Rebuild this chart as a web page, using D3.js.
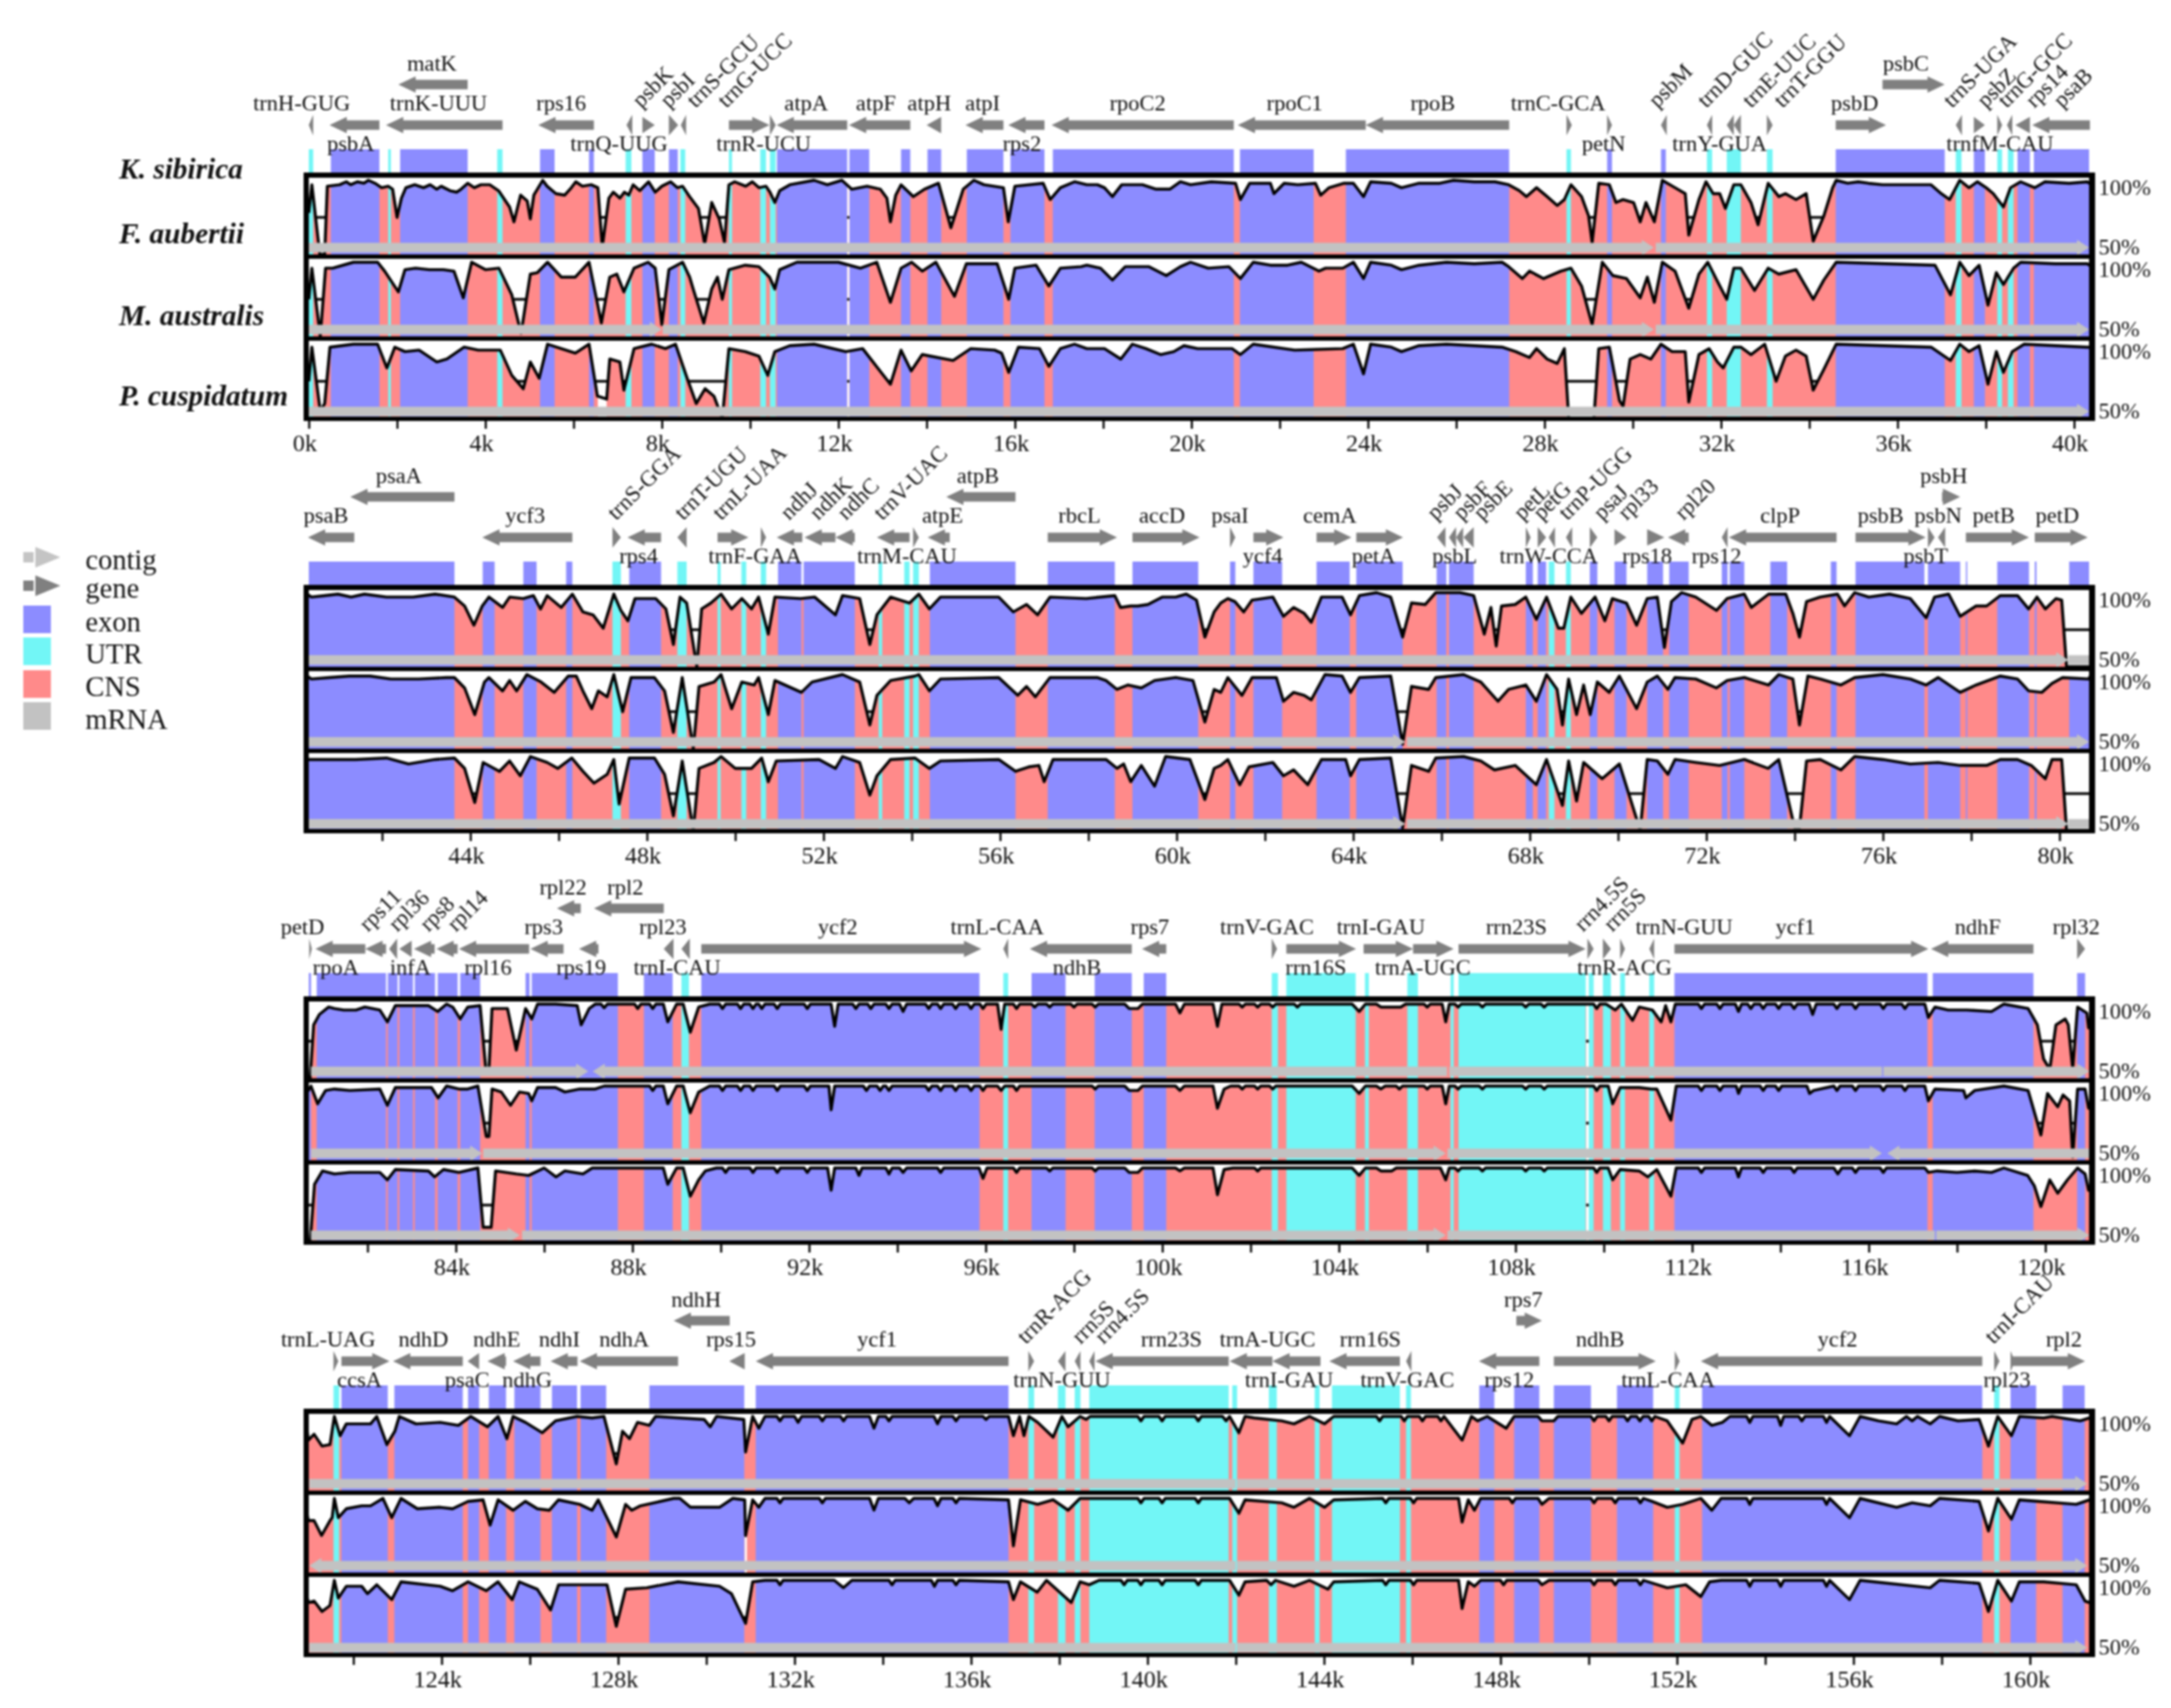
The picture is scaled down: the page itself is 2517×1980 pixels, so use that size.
<!DOCTYPE html>
<html>
<head>
<meta charset="utf-8">
<style>
  body { margin: 0; background: #fff; }
  svg { display: block; filter: blur(0.8px); }
  text { font-family: "Liberation Serif", serif; fill: #111; }
</style>
<script src="https://cdn.jsdelivr.net/npm/d3@7"></script>
</head>
<body>
<script>
// sequence range of each row, in kb
const rowStarts = [0, 40.34, 80.67, 120.99];
const rowEnds = [40.34, 80.67, 120.99, 161.34];
const species = ["F. aubertii", "M. australis", "P. cuspidatum"];
const referenceName = "K. sibirica";
const legendNames = ["contig", "gene", "exon", "UTR", "CNS", "mRNA"];

const exons = [[.5,1.6],[2.07,3.6],[5.24,5.57],[6.35,6.46],[7.56,7.84],[8.16,8.36],[10.61,12.2],[12.25,12.7],[13.42,13.63],[14.02,14.33],[14.91,15.74],[15.9,16.67],[16.86,20.96],[21.1,22.77],[23.5,27.2],[29.42,29.53],[30.64,30.75],[34.6,37.07],[37.73,37.98],[38.72,39],[39.09,40.36],
  [40.33,43.64],[44.28,44.55],[45.2,45.5],[46.17,46.31],[47.6,48.32],[50.97,51.5],[51.55,52.71],[54.41,56.35],[57.08,58.6],[59,60.49],[61.21,61.33],[61.74,62.39],[63.17,63.92],[64.07,65.12],[65.89,66.11],[66.17,66.73],[67.91,68.07],[68.18,68.37],[69.36,69.53],[69.92,70.19],[70.66,71.02],[71.16,71.6],[72.35,72.48],[72.53,72.86],[73.45,73.83],[74.82,74.95],[75.38,76.94],[77.02,77.75],[77.88,77.91],[78.59,79.31],[79.44,79.48],[80.22,80.71],
  [80.68,80.72],[80.85,82.42],[82.46,82.68],[82.72,83.03],[83.07,83.53],[83.59,84.04],[84.1,84.55],[85.58,85.67],[85.72,87.67],[88.26,88.91],[89.56,95.86],[97.04,97.81],[98.47,99.31],[99.58,100.09],[111.6,117.33],[117.45,119.73],[120.72,120.9],
  [121.73,122.78],[122.93,124.48],[124.6,124.85],[125.07,125.46],[125.65,126.24],[126.5,127.07],[127.15,127.73],[128.71,130.86],[131.12,136.85],[147.52,147.86],[148.31,148.88],[149.21,150.05],[150.64,151.46],[152.57,158.92],[159.56,160.14],[160.74,161.24]];

const utrs = [[0,.1],[1.8,1.86],[4.27,4.39],[7.18,7.31],[8.42,8.53],[9.52,9.59],[10.23,10.36],[10.45,10.58],[28.5,28.6],[31.68,31.8],[32.13,32.45],[33.04,33.17],[37.32,37.45],[38.26,38.37],[38.5,38.63],
  [47.22,47.41],[48.69,48.9],[49.6,49.67],[50.14,50.25],[50.58,50.7],[53.25,53.33],[53.83,53.95],[54.03,54.16],[68.43,68.56],[68.82,68.93],
  [89.11,89.28],[96.4,96.51],[102.48,102.62],[102.81,104.38],[104.59,104.68],[105.55,105.79],[106.53,106.6],[106.71,109.59],[109.66,109.77],[109.98,110.16],[110.37,110.48],[111.03,111.14],
  [121.55,121.68],[137.3,137.43],[137.97,138.14],[138.35,138.48],[138.68,141.84],[141.92,142.03],[142.75,142.93],[143.79,143.9],[144.18,145.72],[145.86,145.97],[151.95,152.06],[159.19,159.31]];

// unaligned slivers, per species
const gapsF = [[12.2,12.25],[109.6,109.66]];
const gapsM = [[12.2,12.25],[109.6,109.66],[130.87,130.92]];
const gapsP = [[12.2,12.25],[109.6,109.66],[6.55,6.75]];

// name, start, end, strand, label lane (a above, b below, u upper arrow, r rotated), label kb
const genes = [
  ["trnH-GUG",0,.1,-1,"a",-.16],["psbA",.47,1.6,-1,"b",.95],["trnK-UUU",1.75,4.39,-1,"a",2.94],["matK",2.03,3.6,-1,"u",2.79],["rps16",5.2,6.46,-1,"a",5.72],["trnQ-UUG",7.2,7.33,-1,"b",7.03],["psbK",7.56,7.84,1,"r",7.53],["psbI",8.16,8.37,1,"r",8.16],["trnS-GCU",8.43,8.55,-1,"r",8.76],["trnG-UCC",9.52,10.44,1,"r",9.46],["trnR-UCU",10.45,10.58,1,"b",10.31],["atpA",10.6,12.2,-1,"a",11.27],["atpF",12.24,13.63,-1,"a",12.85],["atpH",14,14.33,-1,"a",14.06],["atpI",14.88,15.74,-1,"a",15.27],["rps2",15.85,16.67,-1,"b",16.16],["rpoC2",16.83,20.96,-1,"a",18.78],["rpoC1",21.05,23.95,-1,"a",22.34],["rpoB",23.95,27.2,-1,"a",25.47],["trnC-GCA",28.5,28.62,1,"a",28.31],["petN",29.42,29.53,1,"b",29.34],["psbM",30.64,30.77,-1,"r",30.56],["trnD-GUC",31.68,31.8,-1,"r",31.66],["trnY-GUA",32.13,32.29,-1,"b",31.97],["trnE-UUC",32.29,32.45,-1,"r",32.68],["trnT-GGU",33.04,33.17,1,"r",33.39],["psbD",34.6,35.74,1,"a",35.03],["psbC",35.66,37.07,1,"u",36.19],["trnS-UGA",37.32,37.46,-1,"r",37.23],["psbZ",37.73,37.98,1,"r",38],["trnG-GCC",38.26,38.37,1,"r",38.47],["trnfM-CAU",38.48,38.6,-1,"b",38.32],["rps14",38.67,39,-1,"r",39.1],["psaB",39.05,40.36,-1,"r",39.73],
  ["psaB",40.32,41.37,-1,"a",40.73],["psaA",41.28,43.64,-1,"u",42.38],["ycf3",44.27,46.31,-1,"a",45.24],["trnS-GGA",47.22,47.41,1,"r",47.3],["rps4",47.56,48.32,-1,"b",47.81],["trnT-UGU",48.69,48.9,-1,"r",48.82],["trnL-UAA",49.6,50.3,1,"r",49.68],["trnF-GAA",50.58,50.7,1,"b",50.45],["ndhJ",50.94,51.52,-1,"r",51.22],["ndhK",51.57,52.27,-1,"r",51.88],["ndhC",52.27,52.71,-1,"r",52.51],["trnV-UAC",53.21,53.95,-1,"r",53.33],["trnM-CAU",54.03,54.16,1,"b",53.89],["atpE",54.36,54.86,-1,"a",54.7],["atpB",54.78,56.35,-1,"u",55.5],["rbcL",57.08,58.65,1,"a",57.8],["accD",59,60.52,1,"a",59.67],["psaI",61.21,61.33,1,"a",61.21],["ycf4",61.74,62.42,1,"b",61.95],["cemA",63.17,63.96,1,"a",63.47],["petA",64.07,65.13,1,"b",64.46],["psbJ",65.9,66.09,-1,"r",65.87],["psbL",66.17,66.33,-1,"b",66.3],["psbF",66.33,66.49,-1,"r",66.46],["psbE",66.5,66.73,-1,"r",66.92],["petL",67.91,68.02,1,"r",67.83],["petG",68.18,68.37,1,"r",68.27],["trnW-CCA",68.43,68.57,-1,"b",68.43],["trnP-UGG",68.82,68.96,-1,"r",68.85],["psaJ",69.36,69.53,1,"r",69.64],["rpl33",69.92,70.19,1,"r",70.19],["rps18",70.66,71.05,1,"b",70.66],["rpl20",71.13,71.6,-1,"r",71.48],["rps12",72.35,72.48,-1,"b",72.23],["clpP",72.51,74.95,-1,"a",73.67],["psbB",75.38,76.97,1,"a",75.95],["psbT",77.02,77.17,1,"b",76.97],["psbN",77.25,77.41,-1,"a",77.25],["psbH",77.34,77.75,1,"u",77.38],["petB",77.88,79.31,1,"a",78.51],["petD",79.44,80.64,1,"a",79.95],
  ["petD",80.68,80.74,1,"a",80.53],["rpoA",80.82,81.95,-1,"b",81.28],["rps11",81.95,82.42,-1,"r",82.01],["rpl36",82.49,82.67,-1,"r",82.67],["infA",82.72,83,-1,"b",82.97],["rps8",83.05,83.52,-1,"r",83.38],["rpl14",83.56,84.04,-1,"r",84],["rpl16",84.07,85.66,-1,"b",84.73],["rps3",85.69,86.44,-1,"a",85.99],["rps19",86.79,87.23,-1,"b",86.84],["rpl22",86.29,86.83,-1,"u",86.43],["rpl2",87.13,88.71,-1,"u",87.84],["rpl23",88.71,88.93,-1,"a",88.69],["trnI-CAU",89.11,89.3,-1,"b",89.01],["ycf2",89.56,95.9,1,"a",92.65],["trnL-CAA",96.4,96.51,-1,"a",96.26],["ndhB",97,99.31,-1,"b",98.07],["rps7",99.54,100.09,-1,"a",99.72],["trnV-GAC",102.48,102.6,1,"a",102.37],["rrn16S",102.81,104.39,1,"b",103.48],["trnI-GAU",104.56,105.68,1,"a",104.95],["trnA-UGC",105.68,106.6,1,"b",105.9],["rrn23S",106.71,109.59,1,"a",108.02],["rrn4.5S",109.63,109.77,1,"r",109.53],["rrn5S",109.98,110.16,1,"r",110.19],["trnR-ACG",110.37,110.48,1,"b",110.47],["trnN-GUU",111.03,111.14,-1,"a",111.82],["ycf1",111.6,117.35,1,"a",114.34],["ndhF",117.41,119.73,-1,"a",118.47],["rpl32",120.72,120.9,1,"a",120.7],
  ["trnL-UAG",121.55,121.66,1,"a",121.43],["ccsA",121.73,122.82,1,"b",122.14],["ndhD",122.9,124.48,-1,"a",123.59],["psaC",124.59,124.85,-1,"b",124.58],["ndhE",125.04,125.46,-1,"a",125.25],["ndhG",125.62,126.24,-1,"b",125.94],["ndhI",126.47,127.08,-1,"a",126.67],["ndhA",127.13,129.36,-1,"a",128.14],["ndhH",129.26,130.53,-1,"u",129.77],["rps15",130.52,130.87,-1,"a",130.56],["ycf1",131.12,136.85,-1,"a",133.87],["trnR-ACG",137.3,137.43,1,"r",137.24],["trnN-GUU",137.97,138.14,-1,"b",138.06],["rrn5S",138.35,138.48,-1,"r",138.48],["rrn4.5S",138.68,138.8,-1,"r",139],["rrn23S",138.82,141.84,-1,"a",140.54],["trnA-UGC",141.86,142.83,-1,"a",142.72],["trnI-GAU",142.83,143.92,-1,"b",143.21],["rrn16S",144.12,145.72,-1,"a",145.05],["trnV-GAC",145.86,145.98,-1,"b",145.89],["rps12",147.51,148.88,-1,"b",148.2],["rps7",148.36,148.94,1,"u",148.52],["ndhB",149.21,151.52,1,"a",150.26],["trnL-CAA",151.95,152.06,1,"b",151.8],["ycf2",152.54,158.92,-1,"a",155.64],["trnI-CAU",159.19,159.31,1,"r",159.17],["rpl23",159.56,159.66,1,"b",159.48],["rpl2",159.62,161.25,1,"a",160.77]
];

// contig pieces: start, end, direction of head (0 = no head)
const contigsF = [[0,30.48,1],[30.52,40.34,1],[40.34,80.2,1],[80.2,80.67,0],[80.72,87,1],[87.1,106.45,-1],[106.5,116.3,0],[116.33,121,1],[121,142,0],[142.03,161.3,1]];
const contigsM = [[0,8,1],[8.02,30.48,1],[30.52,40.34,1],[40.34,65.18,1],[65.22,80.67,1],[80.72,84.6,1],[84.62,106.42,1],[106.46,116.3,1],[116.42,121,-1],[121,142,-1],[142.03,161.3,1]];
const contigsP = [[0,40.34,1],[40.34,65.18,1],[65.22,80.2,1],[80.2,80.67,0],[80.72,85.45,1],[85.5,106.42,1],[106.46,117.5,0],[117.53,121,1],[121,142,0],[142.03,161.3,1]];

// conservation: kb, percent identity
const curveF = [[0,78],[.07,97],[.25,50],[.36,50],[.42,96],[.7,97],[.85,99],[.95,97],[1.1,99],[1.25,98],[1.35,100],[1.5,98],[1.65,95],[1.8,96],[1.9,94],[2,75],[2.1,88],[2.2,95],[2.4,97],[2.6,95],[2.75,97],[2.9,94],[3,96],[3.2,93],[3.35,92],[3.45,94],[3.6,98],[3.75,95],[3.9,97],[4.1,97],[4.3,93],[4.55,82],[4.65,72],[4.8,90],[4.95,86],[5.02,74],[5.1,90],[5.3,100],[5.4,96],[5.6,91],[5.8,90],[5.95,95],[6.05,99],[6.2,96],[6.4,97],[6.55,95],[6.65,55],[6.8,88],[6.9,92],[7.05,88],[7.15,92],[7.25,90],[7.35,97],[7.5,93],[7.7,99],[7.85,92],[8,96],[8.2,99],[8.35,95],[8.47,96],[8.63,89],[8.83,81],[8.97,57],[9.13,85],[9.3,74],[9.42,58],[9.52,97],[9.65,99],[9.9,96],[10.05,99],[10.2,95],[10.36,96],[10.45,92],[10.56,85],[10.67,93],[10.9,97],[11.45,100],[11.75,97],[12.08,100],[12.3,94],[12.65,96],[12.95,94],[13.1,88],[13.18,72],[13.3,90],[13.42,97],[13.7,89],[13.95,94],[14.27,98],[14.55,68],[14.83,94],[15.07,100],[15.3,97],[15.74,95],[15.85,72],[16,96],[16.64,98],[16.8,87],[17.03,95],[17.35,99],
  [17.63,97],[17.87,97],[18.03,95],[18.21,89],[18.42,97],[18.89,97],[19.2,94],[19.51,94],[19.75,99],[19.98,97],[20.45,99],[21,98],[21.11,87],[21.32,98],[21.79,98],[21.87,91],[22.1,98],[22.41,97],[22.81,98],[22.93,90],[23.12,95],[23.46,98],[23.67,98],[23.9,89],[24.06,99],[24.53,98],[24.76,95],[25.16,98],[25.63,98],[25.94,100],[26.41,99],[26.88,99],[27.19,97],[27.43,93],[27.59,89],[27.82,95],[28.06,89],[28.29,83],[28.45,87],[28.6,97],[28.84,89],[29,76],[29.08,58],[29.23,98],[29.47,97],[29.62,85],[29.78,87],[30.02,85],[30.17,72],[30.3,85],[30.49,72],[30.67,100],[30.96,95],[31.19,91],[31.27,63],[31.5,87],[31.66,99],[31.82,91],[31.97,91],[32.1,81],[32.29,97],[32.45,97],[32.68,85],[32.84,70],[33.07,98],[33.31,89],[33.46,91],[33.7,87],[33.93,91],[34.09,59],[34.33,76],[34.53,95],[34.61,100],[34.87,98],[35.11,99],[35.34,98],[35.66,97],[36.76,97],[36.99,91],[37.18,87],[37.41,100],[37.62,95],[37.81,99],[38.01,95],[38.17,91],[38.4,82],[38.56,95],[38.79,99],[39.11,95],[39.34,99],[39.89,98],[40.3,99],
  [40.4,97],[40.7,98],[41,99],[41.3,97],[41.6,99],[42.1,97],[42.7,97],[43.2,99],[43.64,97],[43.87,91],[44.08,78],[44.27,91],[44.42,97],[44.73,90],[44.89,97],[45.2,96],[45.43,98],[45.59,89],[45.74,98],[46.06,90],[46.31,99],[46.55,87],[46.78,85],[47.01,76],[47.25,99],[47.41,88],[47.57,81],[47.73,96],[48.2,96],[48.43,89],[48.6,65],[48.75,97],[48.9,93],[49.13,50],[49.24,89],[49.45,93],[49.68,99],[49.92,89],[50.15,96],[50.37,89],[50.53,97],[50.75,72],[50.9,97],[51.48,96],[51.8,97],[52.27,85],[52.43,98],[52.82,96],[53.05,65],[53.21,85],[53.52,97],[53.95,93],[54.16,99],[54.4,89],[54.65,97],[55.97,97],[56.3,87],[56.6,92],[56.85,85],[57.13,97],[57.95,96],
  [58.6,98],[58.73,90],[58.96,91],[59.12,91],[59.35,92],[59.67,97],[59.98,97],[60.22,99],[60.45,95],[60.64,70],[60.85,87],[61,93],[61.16,96],[61.32,94],[61.52,87],[61.71,95],[62.18,97],[62.42,84],[62.65,90],[62.89,86],[63.05,80],[63.28,97],[63.75,97],[63.94,85],[64.14,98],[64.53,100],[64.85,97],[65.12,70],[65.32,93],[65.63,92],[65.87,100],[66.42,100],[66.73,98],[66.97,72],[67.12,90],[67.24,64],[67.36,91],[67.67,92],[67.91,97],[68.15,82],[68.38,97],[68.65,76],[68.77,76],[68.93,97],[69.17,86],[69.48,97],[69.7,81],[69.87,96],[70.19,93],[70.42,78],[70.66,96],[70.89,97],[71.05,63],[71.21,94],[71.44,100],[71.76,97],[72.23,88],[72.47,96],[72.86,99],[73.02,90],[73.41,99],[73.8,99],[73.96,86],[74.11,70],[74.27,94],[74.58,97],[74.97,99],[75.13,91],[75.36,100],[75.68,97],[76.15,99],[76.62,96],[76.98,83],[77.17,97],[77.49,99],[77.75,84],[78.11,91],[78.35,91],[78.66,98],[79.05,98],[79.3,89],[79.49,97],[79.68,89],[79.92,96],[80.05,95],[80.16,50],[80.66,50],
  [80.7,50],[80.78,86],[80.91,93],[81.12,98],[81.25,97],[81.46,96],[81.74,96],[81.94,98],[82.28,96],[82.45,88],[82.63,99],[82.97,99],[83.38,99],[83.59,95],[83.79,100],[83.93,98],[84.1,90],[84.27,98],[84.55,99],[84.68,56],[84.75,56],[84.82,97],[85.17,97],[85.37,69],[85.58,97],[85.72,90],[85.85,100],[86.26,100],[86.75,99],[86.84,86],[87.02,97],[87.16,100],[87.29,100],[87.36,97.5],[87.43,100],[88.05,100],[88.12,97],[88.19,100],[88.39,100],[88.46,97],[88.53,100],[88.7,100],[88.8,88],[89,100],[89.15,100],[89.31,81],[89.5,98],[89.75,100],[89.97,100],[90.04,97],[90.11,100],[90.38,100],[90.45,97],[90.52,100],[90.66,100],[90.73,97],[90.8,100],[90.86,100],[90.93,97],[91,100],[91.21,100],[91.28,97],[91.35,100],[91.89,100],[91.96,97],[92.03,100],[92.5,100],[92.58,85],[92.66,100],[92.99,100],[93.06,97],[93.13,100],[93.33,100],[93.4,97],[93.47,100],[93.74,100],[93.81,97],[93.88,100],[94.05,100],[94.13,95],[94.21,100],[94.64,100],[94.71,97],[94.78,100],[94.91,100],[94.98,97],[95.05,100],[95.25,100],[95.32,97],[95.39,100],[95.6,100],[95.67,97],[95.74,100],[95.87,100],[95.94,97],[96.01,100],[96.27,100],[96.35,83],[96.43,100],[96.63,100],[96.7,97],[96.77,100],[97.04,100],[97.11,98],[97.18,100],[97.38,100],[97.45,98],[97.52,100],[97.93,100],[98,98],[98.07,100],[98.41,100],[98.48,98],[98.55,100],[99.15,100],[99.25,97],[99.45,97],[99.55,100],[100.3,100],[100.4,94],[100.5,100],[101.15,100],[101.25,85],[101.35,100],[101.74,100],[101.81,98],[101.88,100],[102.09,100],[102.16,98],[102.23,100],[102.43,100],[102.5,98],[102.57,100],[102.99,100],[103.06,98],[103.13,100],[104.3,100],[104.46,95],[104.6,100],[104.85,100],[104.95,98],[105.4,98],[105.51,100],[105.93,100],[106,98],[106.07,100],[106.34,100],[106.42,88],[106.5,100],[106.63,100],[106.7,98],[106.77,100],[107.18,100],[107.25,98],[107.32,100],[108.16,100],[108.23,98],[108.3,100],[108.58,100],[108.65,98],[108.72,100],[109.77,100],[109.84,97],[109.91,100],[110.05,100],[110.26,96],[110.4,100],[110.65,89],[110.8,98],[111.1,96],[111.3,88],[111.4,99],[111.52,88],[111.62,100],[112.14,100],[112.21,97],[112.28,100],[112.56,100],[112.63,97],[112.7,100],[112.98,100],[113.05,95],[113.12,100],[113.26,100],[113.33,97],[113.4,100],[113.54,100],[113.61,97],[113.68,100],[113.89,100],[113.96,97],[114.03,100],[114.24,100],[114.31,97],[114.38,100],[114.65,100],[114.73,93],[114.81,100],[115.21,100],[115.28,97],[115.35,100],[115.63,100],[115.7,97],[115.77,100],[116.26,100],[116.33,97],[116.4,100],[116.75,100],[116.82,97],[116.89,100],[117.27,100],[117.35,91],[117.5,98],[117.8,96],[118.22,96],[118.78,95],[119.06,100],[119.61,97],[119.82,86],[119.96,63],[120.1,56],[120.24,86],[120.45,90],[120.52,86],[120.62,56],[120.73,98],[120.94,94],
  [120.98,84],[121.11,88],[121.29,80],[121.47,81],[121.57,100],[121.7,87],[121.84,95],[122.39,95],[122.53,100],[122.76,81],[122.94,90],[123.04,100],[123.42,95],[123.97,96],[124.38,94],[124.66,100],[125.04,93],[125.28,100],[125.48,85],[125.62,100],[125.9,96],[126.28,89],[126.58,97],[127.07,100],[127.41,99],[127.68,100],[127.96,68],[128.1,90],[128.26,85],[128.44,96],[128.71,94],[128.85,100],[129.95,98],[130.09,93],[130.23,100],[130.85,98],[130.89,76],[131.05,100],[131.19,92],[131.33,100],[131.6,100],[131.67,97],[131.74,100],[132,100],[132.08,96],[132.16,100],[132.56,100],[132.63,97],[132.7,100],[133.04,100],[133.11,97],[133.18,100],[133.7,100],[133.8,92],[133.9,100],[134.07,100],[134.14,97],[134.21,100],[135.16,100],[135.24,95],[135.32,100],[135.59,100],[135.66,97],[135.73,100],[136.27,100],[136.34,98],[136.41,100],[136.85,100],[136.96,87],[137.1,100],[137.2,87],[137.31,100],[137.51,96],[137.86,86],[138.06,100],[138.2,93],[138.47,100],[138.61,98],[138.7,100],[139.78,100],[139.85,97],[139.92,100],[140.26,100],[140.33,97],[140.4,100],[141.08,100],[141.15,97],[141.22,100],[141.7,100],[141.78,97],[141.86,100],[142.07,89],[142.21,100],[142.42,99],[143.04,97],[143.32,95],[143.67,100],[144.01,95],[144.22,100],[145.19,100],[145.26,97],[145.33,100],[145.75,100],[145.82,97],[145.89,100],[146.16,100],[146.23,97],[146.3,100],[146.58,100],[146.65,97],[146.72,100],[147.13,84],[147.34,100],[147.48,97],[147.7,100],[148.13,92],[148.31,100],[148.85,100],[148.94,97],[149.21,97],[149.3,100],[150.05,100],[150.12,97],[150.19,100],[150.39,100],[150.46,97],[150.53,100],[150.81,100],[150.88,97],[150.95,100],[151.09,100],[151.16,97],[151.23,100],[151.36,100],[151.43,97],[151.5,100],[151.78,97],[152.13,82],[152.34,98],[152.54,100],[152.79,94],[153.03,96],[153.2,100],[153.58,100],[153.65,96],[153.72,100],[154.28,100],[154.35,94],[154.42,100],[154.76,100],[154.83,97],[154.9,100],[155.32,100],[155.39,96],[155.46,100],[155.91,87],[156.15,100],[156.57,97],[156.98,95],[157.2,100],[157.33,97],[157.45,100],[157.74,95],[157.95,100],[158.37,97],[158.85,98],[159.06,80],[159.27,100],[159.58,87],[159.76,100],[160.31,99],[160.5,100],[161.14,97],[161.35,99]];

const curveM = [[0,75],[.07,96],[.26,50],[.38,96],[.54,96],[1.01,100],[1.56,100],[1.72,94],[2.03,80],[2.18,95],[2.42,96],[2.73,95],[3.05,95],[3.29,94],[3.5,76],[3.69,100],[4,95],[4.31,96],[4.6,78],[4.81,52],[5.02,92],[5.18,93],[5.41,100],[5.72,90],[6.04,90],[6.35,100],[6.63,59],[6.82,90],[6.98,92],[7.14,80],[7.37,96],[7.69,100],[7.85,96],[8,58],[8.16,95],[8.47,100],[8.63,90],[8.71,82],[8.95,59],[9.13,82],[9.26,90],[9.37,75],[9.52,95],[9.89,98],[10.2,97],[10.44,90],[10.56,82],[10.67,95],[11.06,100],[11.3,100],[12,100],[12.5,96],[12.87,100],[13.18,73],[13.42,96],[13.66,100],[13.9,94],[14.21,100],[14.63,77],[14.9,99],[15.6,99],[15.86,75],[16,96],[16.48,98],[16.77,84],[17.03,96],[17.5,97],
  [17.63,98],[17.94,96],[18.21,88],[18.5,97],[19.04,97],[19.43,91],[19.75,97],[19.98,100],[20.38,96],[20.85,97],[21.11,89],[21.4,100],[21.79,98],[22.18,98],[22.49,100],[22.89,94],[23.04,96],[23.43,96],[23.67,100],[23.9,89],[24.06,100],[24.53,98],[24.76,95],[25.16,98],[25.78,100],[26.41,99],[27.04,100],[27.19,97],[27.5,89],[27.66,94],[27.98,89],[28.37,94],[28.6,96],[28.84,84],[29.08,58],[29.31,100],[29.55,91],[29.86,89],[30.17,76],[30.33,90],[30.49,73],[30.67,100],[30.96,94],[31.27,69],[31.5,92],[31.7,100],[31.92,87],[32.13,75],[32.29,96],[32.45,96],[32.76,81],[33.07,96],[33.31,92],[33.7,95],[34.09,75],[34.33,88],[34.61,100],[36.85,98],[37.2,78],[37.41,100],[37.62,91],[37.85,98],[38.05,71],[38.24,93],[38.4,85],[38.63,96],[38.79,100],[39.57,99],[40.3,99],
  [40.4,97],[40.8,98],[41.26,99],[41.73,99],[42.2,97],[42.83,97],[43.46,98],[43.64,98],[43.87,91],[44.1,73],[44.32,95],[44.42,98],[44.73,89],[44.89,96],[45.05,89],[45.28,100],[45.6,95],[45.9,88],[46.22,99],[46.4,99],[46.55,89],[46.75,77],[46.9,89],[47.1,85],[47.25,100],[47.45,75],[47.64,98],[48.17,98],[48.4,89],[48.6,61],[48.8,98],[49.05,50],[49.18,92],[49.52,95],[49.68,100],[49.92,77],[50.15,95],[50.43,93],[50.53,98],[50.75,73],[50.9,96],[51.5,88],[51.74,95],[52.43,100],[52.82,95],[53.05,66],[53.21,86],[53.52,96],[54.07,99],[54.16,100],[54.4,89],[54.65,97],[55.97,98],[56.4,86],[56.6,92],[56.8,85],[57.13,98],[58.2,98],
  [58.4,96],[58.65,90],[58.9,93],[59.2,91],[59.5,96],[59.98,98],[60.37,96],[60.64,68],[60.85,90],[61,88],[61.16,98],[61.48,86],[61.71,98],[62.26,98],[62.42,82],[62.65,88],[62.89,86],[63.05,83],[63.36,100],[63.75,99],[63.94,88],[64.14,98],[64.85,99],[65.12,53],[65.32,92],[65.71,90],[65.87,98],[66.5,100],[66.89,95],[67.28,82],[67.52,90],[67.91,93],[68.15,82],[68.38,100],[68.62,90],[68.74,66],[68.88,97],[69.06,73],[69.22,93],[69.37,73],[69.53,95],[69.8,88],[70.03,99],[70.42,77],[70.66,95],[70.89,99],[71.13,90],[71.29,98],[71.76,97],[72.23,91],[72.47,96],[72.86,98],[73.41,93],[73.64,100],[73.96,97],[74.11,66],[74.3,99],[74.58,97],[75.05,93],[75.36,98],[76,100],[76.62,97],[76.98,93],[77.25,98],[77.75,88],[78.11,93],[78.66,99],[79.05,97],[79.3,89],[79.6,88],[79.83,94],[80.07,98],[80.66,97],
  [80.72,100],[80.87,88],[81.05,97],[81.25,98],[81.6,97],[82.28,98],[82.45,87],[82.63,99],[82.97,99],[83.45,99],[83.6,92],[83.79,100],[84.07,98],[84.27,98],[84.5,100],[84.69,66],[84.75,66],[84.82,98],[85.03,96],[85.24,87],[85.44,96],[85.65,95],[85.72,90],[85.85,99],[86.26,99],[86.47,96],[86.81,98],[87.16,98],[87.36,100],[88.39,100],[88.46,97],[88.53,100],[88.7,100],[88.8,88],[89,100],[89.15,100],[89.31,82],[89.5,96],[89.75,100],[89.97,100],[90.04,97],[90.11,100],[90.38,100],[90.45,97],[90.52,100],[90.66,100],[90.73,97],[90.8,100],[91.21,100],[91.28,97],[91.35,100],[91.89,100],[91.96,97],[92.03,100],[92.45,100],[92.5,84],[92.58,100],[93.23,100],[93.3,97],[93.37,100],[93.54,100],[93.61,97],[93.68,100],[93.74,100],[93.81,97],[93.88,100],[94.64,100],[94.71,97],[94.78,100],[94.91,100],[94.98,97],[95.05,100],[95.25,100],[95.32,97],[95.39,100],[95.6,100],[95.67,97],[95.74,100],[95.87,100],[95.94,97],[96.01,100],[96.27,100],[96.35,97],[96.43,100],[96.63,100],[96.7,97],[96.77,100],[98.41,100],[98.48,98],[98.55,100],[99.15,100],[99.25,97],[99.45,97],[99.55,100],[100.3,100],[100.4,97],[100.5,100],[101.15,100],[101.25,85],[101.4,98],[101.55,100],[101.74,100],[101.81,98],[101.88,100],[102.09,100],[102.16,98],[102.23,100],[102.43,100],[102.5,98],[102.57,100],[104.3,100],[104.46,95],[104.6,100],[104.85,100],[104.95,98],[105.05,100],[105.3,100],[105.37,98],[105.44,100],[105.93,100],[106,98],[106.07,100],[106.34,100],[106.42,88],[106.5,100],[106.63,100],[106.7,98],[106.77,100],[107.18,100],[107.25,98],[107.32,100],[108.16,100],[108.23,98],[108.3,100],[108.58,100],[108.65,98],[108.72,100],[109.77,100],[109.84,97],[109.91,100],[110.1,100],[110.2,88],[110.37,99],[110.8,99],[111.08,98],[111.2,98],[111.52,77],[111.64,100],[112.14,100],[112.21,97],[112.28,100],[112.56,100],[112.63,97],[112.7,100],[113,100],[113.05,95],[113.12,100],[113.54,100],[113.61,97],[113.68,100],[113.89,100],[113.96,97],[114.03,100],[114.6,100],[114.66,95],[114.75,97],[115.21,100],[115.28,97],[115.35,100],[115.63,100],[115.7,97],[115.77,100],[116.26,100],[116.33,97],[116.4,100],[116.75,100],[116.82,97],[116.89,100],[117.27,100],[117.35,90],[117.5,98],[118.15,97],[118.2,92],[118.4,97],[119.06,100],[119.61,97],[119.9,67],[120.05,95],[120.28,86],[120.4,94],[120.55,90],[120.62,52],[120.73,98],[120.9,98],
  [120.98,85],[121.11,85],[121.28,75],[121.47,85],[121.52,87],[121.57,100],[121.66,87],[121.84,93],[122.19,95],[122.39,95],[122.67,100],[122.87,87],[123.08,100],[123.45,93],[123.97,94],[124.25,93],[124.6,98],[124.94,99],[125.1,82],[125.28,99],[125.62,92],[125.9,98],[126.17,93],[126.44,92],[126.65,99],[127.13,96],[127.41,92],[127.55,99],[127.96,74],[128.17,96],[128.31,92],[128.51,95],[129.26,100],[129.4,100],[129.64,94],[130.3,94],[130.6,100],[130.87,99],[130.89,75],[131.05,99],[131.19,94],[131.33,100],[131.6,100],[131.67,97],[131.74,100],[132.56,100],[132.63,97],[132.7,100],[133.7,100],[133.8,92],[133.9,100],[134.5,100],[134.6,97],[134.7,100],[135.16,100],[135.24,95],[135.32,100],[135.59,100],[135.66,97],[135.73,100],[136.85,99],[136.96,68],[137.12,99],[137.51,96],[137.86,99],[138.2,92],[138.47,100],[139.78,100],[139.85,97],[139.92,100],[140.26,100],[140.33,97],[140.4,100],[141.08,100],[141.15,97],[141.22,100],[141.86,100],[142.07,90],[142.21,99],[143.04,97],[143.32,94],[143.67,100],[144.01,94],[144.22,99],[145.33,100],[145.4,97],[145.47,100],[145.96,100],[146.03,97],[146.1,100],[147.05,100],[147.13,84],[147.27,99],[147.41,92],[147.55,100],[148.2,100],[148.27,97],[148.34,100],[148.85,100],[148.94,96],[149.1,100],[150.05,100],[150.12,97],[150.19,100],[150.53,100],[150.6,97],[150.67,100],[151.1,100],[151.17,97],[151.24,100],[151.43,98],[151.78,94],[152.13,96],[152.54,100],[152.79,92],[153,100],[153.58,100],[153.65,96],[153.72,100],[155.32,100],[155.39,96],[155.46,100],[155.91,87],[156.15,100],[156.98,94],[157.33,97],[157.74,95],[157.95,100],[158.85,98],[159.06,78],[159.27,100],[159.58,86],[159.76,99],[160.2,98],[161.05,96],[161.35,99]];

const curveP = [[0,75],[.07,98],[.26,55],[.36,60],[.48,98],[1.01,100],[1.56,100],[1.77,84],[1.95,98],[2.18,95],[2.5,96],[2.9,88],[3.13,90],[3.52,98],[3.84,96],[4.34,96],[4.6,79],[4.86,70],[5.02,88],[5.22,77],[5.41,100],[5.72,97],[6.04,94],[6.35,100],[6.54,65],[6.75,63],[6.82,90],[7.05,88],[7.14,69],[7.37,97],[7.77,100],[8.08,97],[8.31,100],[8.55,79],[8.78,60],[8.98,70],[9.18,65],[9.37,50],[9.52,97],[9.89,95],[10.2,92],[10.4,79],[10.56,95],[10.9,99],[11.45,100],[12.17,95],[12.55,97],[13.18,73],[13.42,96],[13.65,82],[13.9,93],[14.6,89],[15,97],[15.54,96],[15.7,94],[15.86,81],[16.08,98],[16.56,97],[16.77,85],[17.03,97],[17.35,100],
  [17.63,97],[18.03,97],[18.4,90],[18.66,100],[18.97,97],[19.3,93],[19.6,95],[19.83,99],[20.14,97],[20.92,97],[21.11,93],[21.4,100],[22.34,96],[23.43,97],[23.67,100],[23.9,80],[24.06,100],[24.53,98],[24.76,95],[25.16,99],[25.78,100],[27.04,98],[27.35,95],[27.66,91],[27.82,97],[28.06,90],[28.29,87],[28.45,97],[28.55,50],[29.12,50],[29.23,97],[29.47,98],[29.7,62],[29.78,58],[29.94,90],[30.17,93],[30.41,90],[30.64,100],[30.89,95],[31.19,95],[31.27,61],[31.5,93],[31.73,97],[31.92,88],[32.05,84],[32.29,98],[32.45,98],[32.68,93],[32.99,100],[33.25,75],[33.46,92],[33.7,96],[33.93,92],[34.09,69],[34.33,83],[34.61,100],[36.76,98],[37.2,89],[37.41,100],[37.62,95],[37.85,99],[38.05,73],[38.24,95],[38.4,81],[38.6,95],[38.87,100],[40.3,98],
  [40.4,98],[41.4,98],[42.1,99],[42.6,95],[43.2,98],[43.64,99],[43.87,92],[44.1,69],[44.29,96],[44.66,90],[44.89,97],[45.13,87],[45.36,100],[45.74,96],[45.98,92],[46.3,99],[46.55,90],[46.8,82],[47.1,88],[47.25,98],[47.37,68],[47.6,99],[48.17,99],[48.4,88],[48.6,60],[48.8,97],[49.05,50],[49.18,92],[49.52,96],[49.68,100],[50,92],[50.37,92],[50.6,99],[50.75,83],[50.93,97],[51.9,98],[52.27,92],[52.43,100],[52.82,96],[53.05,74],[53.21,87],[53.52,98],[54.07,99],[54.4,92],[54.65,97],[55.97,98],[56.35,90],[56.65,93],[56.88,94],[57,83],[57.2,98],[58.2,98],
  [58.4,98],[58.65,92],[58.8,95],[58.96,83],[59.2,94],[59.5,80],[59.75,100],[60.3,98],[60.64,71],[60.85,92],[61,94],[61.16,98],[61.43,81],[61.64,93],[62.18,96],[62.42,87],[62.65,91],[62.97,81],[63.28,98],[63.83,98],[63.94,87],[64.14,98],[64.85,99],[65.12,52],[65.32,94],[65.71,90],[65.87,99],[66.5,100],[66.89,97],[67.2,91],[67.67,94],[68.15,81],[68.38,98],[68.74,67],[68.88,97],[69.06,70],[69.22,96],[69.64,85],[70.03,95],[70.42,58],[70.5,50],[70.66,98],[70.89,97],[71.13,88],[71.29,98],[71.76,96],[72.3,94],[72.86,98],[73.4,92],[73.64,98],[74,52],[74.11,52],[74.27,97],[74.58,98],[75.05,91],[75.36,100],[76,98],[76.62,95],[77.25,96],[77.75,94],[78.35,94],[78.66,98],[79.05,98],[79.36,94],[79.68,85],[79.83,98],[80.05,98],[80.16,50],[80.66,50],
  [80.7,50],[80.8,89],[80.98,98],[81.25,96],[81.6,97],[82.28,97],[82.45,92],[82.63,99],[83.38,98],[83.52,94],[83.72,99],[84.07,97],[84.5,100],[84.62,60],[84.8,60],[84.9,98],[85.37,96],[85.65,95],[86,100],[86.27,94],[86.47,98],[86.88,96],[87.09,100],[88.7,100],[88.8,89],[89,100],[89.15,100],[89.31,81],[89.5,92],[89.65,98],[89.9,100],[90.04,100],[90.11,97],[90.18,100],[90.66,100],[90.73,97],[90.8,100],[91.21,100],[91.28,97],[91.35,100],[91.89,100],[91.96,97],[92.03,100],[92.42,100],[92.5,85],[92.58,100],[93.06,100],[93.13,95],[93.2,100],[93.74,100],[93.81,96],[93.88,100],[94.05,100],[94.13,97],[94.21,100],[94.91,100],[94.98,97],[95.05,100],[95.85,100],[95.94,93],[96.03,100],[96.63,100],[96.7,97],[96.77,100],[97.38,100],[97.45,98],[97.52,100],[98.41,100],[98.48,98],[98.55,100],[99.15,100],[99.25,97],[99.45,97],[99.55,100],[100.3,100],[100.4,98],[100.5,100],[101.15,100],[101.25,82],[101.4,99],[101.6,100],[102.09,100],[102.16,98],[102.23,100],[104.3,100],[104.46,95],[104.6,100],[104.85,100],[104.95,98],[105.2,98],[105.3,100],[106.3,100],[106.42,92],[106.5,100],[106.63,100],[106.7,98],[106.77,100],[107.18,100],[107.25,98],[107.32,100],[108.16,100],[108.23,98],[108.3,100],[108.58,100],[108.65,98],[108.72,100],[109.77,100],[109.84,97],[109.91,100],[110.1,100],[110.2,92],[110.37,99],[110.8,98],[111,94],[111.2,99],[111.52,81],[111.64,100],[112.14,100],[112.21,97],[112.28,100],[112.98,100],[113.05,94],[113.12,100],[113.54,100],[113.61,97],[113.68,100],[114.24,100],[114.31,97],[114.38,100],[115.21,100],[115.3,96],[115.39,100],[115.63,100],[115.7,97],[115.77,100],[116.26,100],[116.33,97],[116.4,100],[117.27,100],[117.35,97],[117.55,98],[118,97],[118.4,98],[118.78,97],[119.06,100],[119.6,95],[119.75,88],[119.9,74],[120.1,92],[120.28,83],[120.5,92],[120.73,100],[120.9,96],
  [120.98,85],[121.11,86],[121.29,79],[121.47,83],[121.57,100],[121.66,88],[121.84,96],[122.19,96],[122.32,91],[122.53,97],[122.87,87],[123.08,99],[123.97,96],[124.25,93],[124.6,99],[125.01,93],[125.28,99],[125.6,87],[125.76,99],[126.17,94],[126.47,80],[126.65,97],[127.41,97],[127.75,97],[127.96,69],[128.17,94],[128.65,95],[129.36,99],[130.3,96],[130.57,91],[130.89,71],[131.05,99],[131.33,100],[131.6,100],[131.67,97],[131.74,100],[132.9,100],[133.11,95],[133.3,100],[134.14,100],[134.21,97],[134.28,100],[135.1,100],[135.17,96],[135.24,100],[135.59,100],[135.66,97],[135.73,100],[136.85,99],[136.96,87],[137.12,99],[137.5,92],[137.71,100],[138.27,85],[138.47,99],[138.68,97],[138.9,100],[139.4,100],[139.47,97],[139.54,100],[139.78,100],[139.85,97],[139.92,100],[140.26,100],[140.33,97],[140.4,100],[141.08,100],[141.15,97],[141.22,100],[141.86,100],[142.07,90],[142.21,99],[142.7,100],[142.8,97],[142.9,100],[143.32,96],[143.67,100],[144.09,94],[144.22,99],[145.33,100],[145.4,97],[145.47,100],[145.96,100],[146.03,97],[146.1,100],[147.05,100],[147.13,81],[147.27,99],[147.41,96],[147.55,100],[148,100],[148.07,97],[148.14,100],[148.85,100],[148.94,97],[149.1,100],[150.05,100],[150.12,97],[150.19,100],[150.53,100],[150.6,97],[150.67,100],[151.1,100],[151.17,97],[151.24,100],[151.78,95],[152.2,97],[152.54,89],[152.74,99],[153,100],[153.58,100],[153.65,96],[153.72,100],[154.28,100],[154.35,96],[154.42,100],[155.32,100],[155.39,96],[155.46,100],[155.91,87],[156.15,100],[157.74,95],[157.95,100],[158.85,98],[159.06,79],[159.27,100],[159.58,86],[159.76,99],[160.31,99],[161.05,97],[161.25,86],[161.35,85]];

const curves = [curveF, curveM, curveP];
const contigs = [contigsF, contigsM, contigsP];
const gaps = [gapsF, gapsM, gapsP];

const colors = { exon: "#8c8cff", utr: "#72f6f6", cns: "#ff8a8a", mrna: "#c2c2c2", gene: "#808080", contig: "#c4c4c4" };
const panelTops = [200, 678, 1155, 1633];
const plotLeft = 358, plotRight = 2422, subStep = 95;

const svg = d3.select("body").append("svg").attr("width", 2517).attr("height", 1980);
const defs = svg.append("defs");

const yScale = d3.scaleLinear().domain([50, 100]).range([95, 9]).clamp(true);

function arrowPath(x0, x1, cy, dir, shaft, headH, headL) {
    const len = x1 - x0;
    const hl = Math.min(headL, len);
    if (dir === 0) return `M${x0},${cy - shaft}H${x1}V${cy + shaft}H${x0}Z`;
    const tip = dir > 0 ? x1 : x0, base = dir > 0 ? x1 - hl : x0 + hl, tail = dir > 0 ? x0 : x1;
    return `M${tail},${cy - shaft}H${base}V${cy - headH}L${tip},${cy}L${base},${cy + headH}V${cy + shaft}H${tail}Z`;
}

rowStarts.forEach((rowStart, r) => {
    const rowEnd = rowEnds[r];
    const T = panelTops[r];
    const x = d3.scaleLinear().domain([rowStart, rowEnd]).range([plotLeft, plotRight]);
    const g = svg.append("g");

    defs.append("clipPath").attr("id", "row" + r).append("rect")
        .attr("x", plotLeft).attr("y", T - 200).attr("width", plotRight - plotLeft).attr("height", 500);
    const plot = g.append("g").attr("clip-path", `url(#row${r})`);

    // annotation strip above the frame
    plot.selectAll("rect.topExon").data(exons).join("rect").attr("class", "topExon")
        .attr("x", d => x(d[0])).attr("width", d => x(d[1]) - x(d[0]))
        .attr("y", T - 27).attr("height", 27).attr("fill", colors.exon);
    plot.selectAll("rect.topUtr").data(utrs).join("rect").attr("class", "topUtr")
        .attr("x", d => x(d[0])).attr("width", d => x(d[1]) - x(d[0]))
        .attr("y", T - 27).attr("height", 27).attr("fill", colors.utr);

    species.forEach((sp, s) => {
        const top = T + s * subStep;
        const sub = plot.append("g").attr("transform", `translate(0,${top})`);
        sub.append("rect").attr("x", plotLeft).attr("width", plotRight - plotLeft)
            .attr("height", subStep).attr("fill", colors.cns);
        sub.selectAll("rect.e").data(exons).join("rect").attr("class", "e")
            .attr("x", d => x(d[0])).attr("width", d => x(d[1]) - x(d[0]))
            .attr("height", subStep).attr("fill", colors.exon);
        sub.selectAll("rect.u").data(utrs).join("rect").attr("class", "u")
            .attr("x", d => x(d[0])).attr("width", d => x(d[1]) - x(d[0]))
            .attr("height", subStep).attr("fill", colors.utr);

        const pts = curves[s].filter(d => d[0] >= rowStart - 1 && d[0] <= rowEnd + 1);
        const area = d3.area().x(d => x(d[0])).y0(0).y1(d => yScale(d[1]))(pts);
        const line = d3.line().x(d => x(d[0])).y(d => yScale(d[1]))(pts);

        sub.selectAll("rect.g").data(gaps[s]).join("rect").attr("class", "g")
            .attr("x", d => x(d[0])).attr("width", d => x(d[1]) - x(d[0]))
            .attr("height", subStep).attr("fill", "#fff");
        sub.append("path").attr("d", area).attr("fill", "#fff");

        // the 75% line only shows where nothing is painted
        const clipId = `mid${r}${s}`;
        const cp = defs.append("clipPath").attr("id", clipId);
        cp.append("path").attr("d", area);
        gaps[s].forEach(d => cp.append("rect").attr("x", x(d[0])).attr("width", x(d[1]) - x(d[0])).attr("height", subStep));
        sub.append("g").attr("clip-path", `url(#${clipId})`).append("line")
            .attr("x1", plotLeft).attr("x2", plotRight)
            .attr("y1", yScale(75)).attr("y2", yScale(75))
            .attr("stroke", "#000").attr("stroke-width", 3);

        sub.append("path").attr("d", line).attr("fill", "none")
            .attr("stroke", "#000").attr("stroke-width", 3.4).attr("stroke-linejoin", "round");

        sub.selectAll("path.contig")
            .data(contigs[s].filter(d => (d[0] + d[1]) / 2 > rowStart && (d[0] + d[1]) / 2 < rowEnd))
            .join("path").attr("class", "contig")
            .attr("d", d => arrowPath(x(d[0]), x(d[1]), 87, d[2], 5.5, 9, 14))
            .attr("fill", colors.mrna);
    });

    // frame
    const frame = g.append("g").attr("fill", "#000");
    frame.append("rect").attr("x", plotLeft - 6).attr("y", T).attr("width", plotRight - plotLeft + 13).attr("height", 6);
    frame.append("rect").attr("x", plotLeft - 6).attr("y", T + 95).attr("width", plotRight - plotLeft + 13).attr("height", 5);
    frame.append("rect").attr("x", plotLeft - 6).attr("y", T + 190).attr("width", plotRight - plotLeft + 13).attr("height", 5);
    frame.append("rect").attr("x", plotLeft - 6).attr("y", T + 283).attr("width", plotRight - plotLeft + 13).attr("height", 5);
    frame.append("rect").attr("x", plotLeft - 6).attr("y", T).attr("width", 6).attr("height", 288);
    frame.append("rect").attr("x", plotRight).attr("y", T).attr("width", 7).attr("height", 288);

    // percent labels
    species.forEach((sp, s) => {
        const top = T + s * subStep;
        g.append("text").attr("x", 2433).attr("y", top + 26).attr("font-size", 26).text("100%");
        g.append("text").attr("x", 2433).attr("y", top + 95).attr("font-size", 26).text("50%");
    });

    // position axis
    const tickVals = d3.range(Math.ceil(rowStart / 2) * 2, rowEnd, 2);
    const axis = d3.axisBottom(x).tickValues(tickVals)
        .tickSize(9).tickPadding(6)
        .tickFormat(d => d % 4 === 0 ? d + "k" : "");
    const ax = g.append("g").attr("transform", `translate(0,${T + 288})`).call(axis);
    ax.select(".domain").remove();
    ax.selectAll(".tick line").attr("stroke", "#000").attr("stroke-width", 2.4);
    ax.selectAll(".tick text").attr("font-size", 28).attr("dx", -5)
        .attr("font-family", "Liberation Serif").attr("fill", "#111");

    // gene arrows and their names
    const rowGenes = genes.filter(d => (d[1] + d[2]) / 2 >= rowStart && (d[1] + d[2]) / 2 < rowEnd);
    g.selectAll("path.gene").data(rowGenes).join("path").attr("class", "gene")
        .attr("d", d => {
            const cy = T + (d[4] === "u" ? -102 : -55);
            const short = x(d[2]) - x(d[1]) < 12;
            return arrowPath(x(d[1]), x(d[2]), cy, d[3], 5.5, short ? 12 : 9.5, 20);
        })
        .attr("fill", colors.gene);

    const laneY = { a: -72, b: -25, u: -118 };
    g.selectAll("text.gname").data(rowGenes).join("text").attr("class", "gname")
        .attr("font-size", 26)
        .attr("text-anchor", d => d[4] === "r" ? "start" : "middle")
        .attr("transform", d => d[4] === "r"
            ? `translate(${x(d[5])},${T - 74}) rotate(-45)`
            : `translate(${x(d[5])},${T + laneY[d[4]]})`)
        .text(d => d[0]);
});

// species names, only next to the first row
const nameRows = [referenceName, ...species];
const nameY = [207, 282, 377, 470];
svg.selectAll("text.sp").data(nameRows).join("text").attr("class", "sp")
    .attr("x", 138).attr("y", (d, i) => nameY[i])
    .attr("font-size", 34).attr("font-weight", "bold").attr("font-style", "italic")
    .text(d => d);

// legend
const legendY = [660, 693, 732, 769, 807, 845];
const legendFill = [colors.contig, colors.gene, colors.exon, colors.utr, colors.cns, colors.mrna];
const legendTop = [null, null, 702, 739, 777, 814];
const legend = svg.append("g");
legendNames.forEach((name, i) => {
    legend.append("text").attr("x", 99).attr("y", legendY[i]).attr("font-size", 33).text(name);
    if (i < 2) {
        const cy = i === 0 ? 646 : 679;
        legend.append("rect").attr("x", 27).attr("y", cy - 6).attr("width", 12).attr("height", 12).attr("fill", legendFill[i]);
        legend.append("path").attr("d", `M41,${cy - 12}L70,${cy}L41,${cy + 12}Z`).attr("fill", legendFill[i]);
    } else {
        legend.append("rect").attr("x", 27).attr("y", legendTop[i]).attr("width", 32).attr("height", 32).attr("fill", legendFill[i]);
    }
});
</script>
</body>
</html>
